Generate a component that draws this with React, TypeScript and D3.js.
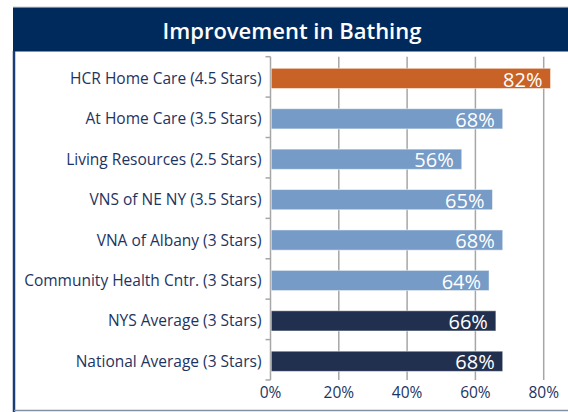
import React, { useEffect, useRef } from "react";
import * as d3 from "d3";

const categories = [
  "HCR Home Care (4.5 Stars)",
  "At Home Care (3.5 Stars)",
  "Living Resources (2.5 Stars)",
  "VNS of NE NY (3.5 Stars)",
  "VNA of Albany (3 Stars)",
  "Community Health Cntr. (3 Stars)",
  "NYS Average (3 Stars)",
  "National Average (3 Stars)",
];
const values = [82, 68, 56, 65, 68, 64, 66, 68];
const groups = ["hcr", "peer", "peer", "peer", "peer", "peer", "avg", "avg"];
const xTicks = [0, 20, 40, 60, 80];

const W = 568;
const H = 412;
const margin = { top: 56.7, left: 270.5, bottom: 32, right: 0 };
const colors: Record<string, string> = {
  hcr: "#c96226",
  peer: "#759bc6",
  avg: "#22304f",
};
const navy = "#1d3461";
const font = "'Open Sans', sans-serif";

export default function App() {
  const ref = useRef<SVGSVGElement>(null);

  useEffect(() => {
    const svg = d3.select(ref.current);
    svg.selectAll("*").remove();

    // frame + header
    svg.append("rect").attr("x", 0).attr("y", 0).attr("width", W).attr("height", H).attr("fill", "#fff");
    svg.append("line")
      .attr("x1", 13).attr("x2", W).attr("y1", 7).attr("y2", 7)
      .attr("stroke", "#c8ccd4").attr("stroke-width", 1);
    svg.append("rect")
      .attr("x", 13).attr("y", 7.5).attr("width", W - 13).attr("height", 44)
      .attr("fill", "#012a5c");
    svg.append("text")
      .attr("x", 292).attr("y", 39)
      .attr("text-anchor", "middle")
      .attr("fill", "#fff")
      .style("font", `600 22px ${font}`)
      .text("Improvement in Bathing");
    svg.append("line")
      .attr("x1", 14).attr("x2", 14).attr("y1", 51).attr("y2", H)
      .attr("stroke", "#1b3d73").attr("stroke-width", 2.5);
    svg.append("line")
      .attr("x1", 14).attr("x2", W).attr("y1", 410.5).attr("y2", 410.5)
      .attr("stroke", "#8491a3").attr("stroke-width", 1.5);

    const x = d3.scaleLinear().domain([0, 100]).range([margin.left, margin.left + 341.5]);
    const y = d3.scaleBand<string>()
      .domain(categories)
      .range([margin.top, 380])
      .paddingInner(0.5)
      .paddingOuter(0.25);

    const step = y.step();
    const bottom = 380;

    // gridlines
    svg.append("g")
      .selectAll("line")
      .data(xTicks.slice(1))
      .join("line")
      .attr("x1", d => x(d)).attr("x2", d => x(d))
      .attr("y1", margin.top).attr("y2", bottom)
      .attr("stroke", "#a6a6a6").attr("stroke-width", 1.5);

    // y axis line + tick marks at band boundaries
    svg.append("line")
      .attr("x1", x(0)).attr("x2", x(0))
      .attr("y1", margin.top).attr("y2", bottom)
      .attr("stroke", "#a6a6a6").attr("stroke-width", 1.5);
    svg.append("g")
      .selectAll("line")
      .data(d3.range(categories.length + 1))
      .join("line")
      .attr("x1", x(0) - 5).attr("x2", x(0))
      .attr("y1", i => margin.top + i * step).attr("y2", i => margin.top + i * step)
      .attr("stroke", "#a6a6a6").attr("stroke-width", 1.5);

    const off = 1.5;

    // bars
    svg.append("g")
      .selectAll("rect")
      .data(values)
      .join("rect")
      .attr("x", x(0) + 0.75)
      .attr("y", (d, i) => (y(categories[i]) as number) + off)
      .attr("width", d => x(d) - x(0) - 0.75)
      .attr("height", y.bandwidth())
      .attr("fill", (d, i) => colors[groups[i]])
      .attr("stroke", "#ffffff")
      .attr("stroke-opacity", 0.5)
      .attr("stroke-width", 1);

    // value labels
    svg.append("g")
      .selectAll("text")
      .data(values)
      .join("text")
      .attr("x", d => x(d) - 8)
      .attr("y", (d, i) => (y(categories[i]) as number) + off + y.bandwidth() - 2)
      .attr("text-anchor", "end")
      .attr("fill", "#fff")
      .style("font", `20px ${font}`)
      .text(d => d + "%");

    // category labels
    svg.append("g")
      .selectAll("text")
      .data(categories)
      .join("text")
      .attr("x", x(0) - 9)
      .attr("y", d => (y(d) as number) + off + y.bandwidth() / 2 + 5.5)
      .attr("text-anchor", "end")
      .attr("fill", navy)
      .style("font", `15.5px ${font}`)
      .text(d => d);

    // x tick labels
    svg.append("g")
      .selectAll("text")
      .data(xTicks)
      .join("text")
      .attr("x", d => x(d))
      .attr("y", 398)
      .attr("text-anchor", "middle")
      .attr("fill", navy)
      .style("font", `15.5px ${font}`)
      .text(d => d + "%");
  }, []);

  return (
    <div>
      <style>{`body{margin:0}`}</style>
      <svg ref={ref} width={W} height={H} style={{ display: "block" }} />
    </div>
  );
}
